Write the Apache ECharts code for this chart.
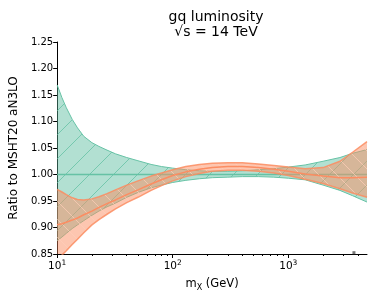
<!DOCTYPE html>
<html><head><meta charset="utf-8">
<script src="https://cdn.jsdelivr.net/npm/echarts@6/dist/echarts.min.js"></script>
<style>html,body{margin:0;padding:0;background:#fff}#c{width:374px;height:297px}</style>
</head><body><div id="c"></div>
<script>
const mass     = [10, 11, 12, 13.5, 15, 17, 20, 23, 27, 32, 40, 50, 65, 80, 100, 130, 170, 220, 300, 400, 550, 750, 1000, 1400, 2000, 2800, 3600, 4800];
const greenHi  = [1.169,1.145,1.126,1.104,1.088,1.072,1.060,1.053,1.046,1.039,1.032,1.026,1.019,1.015,1.012,1.009,1.007,1.006,1.006,1.007,1.009,1.011,1.014,1.018,1.025,1.032,1.040,1.047];
const greenMid = [1,1,1,1,1,1,1,1,1,1,1,1,1,1,1,1,1,1,1,1,1,1,1,1,1,1,1,1];
const greenLo  = [0.875,0.882,0.889,0.898,0.905,0.913,0.923,0.931,0.939,0.946,0.957,0.966,0.975,0.980,0.985,0.989,0.992,0.994,0.995,0.996,0.996,0.995,0.993,0.990,0.980,0.970,0.960,0.948];
const orangeHi = [0.972,0.967,0.962,0.956,0.953,0.952,0.954,0.958,0.964,0.971,0.980,0.988,0.997,1.003,1.009,1.015,1.019,1.021,1.022,1.022,1.020,1.017,1.014,1.011,1.013,1.025,1.042,1.062];
const orangeMid= [0.905,0.907,0.910,0.914,0.918,0.924,0.931,0.938,0.945,0.952,0.962,0.971,0.982,0.990,0.998,1.005,1.010,1.013,1.015,1.015,1.013,1.010,1.006,1.001,0.997,0.994,0.994,0.995];
const orangeLo = [0.840,0.848,0.856,0.868,0.878,0.890,0.905,0.915,0.925,0.935,0.947,0.957,0.970,0.979,0.988,0.996,1.002,1.006,1.008,1.008,1.006,1.003,0.998,0.991,0.983,0.973,0.965,0.957];
const yTicks = [0.85,0.90,0.95,1.00,1.05,1.10,1.15,1.20,1.25];
const xMajor = [10, 100, 1000];
const xMinor = [20,30,40,50,60,70,80,90,200,300,400,500,600,700,800,900,2000,3000,4000];
const marker = [[3700, 0.8525]];

const GREEN = '#66c2a5', ORANGE = '#fc8d62';
const FONT = 'DejaVu Sans';
function hatch(fill, line, dir, s, lw) {
  const c = document.createElement('canvas'); c.width = s; c.height = s;
  const g = c.getContext('2d');
  g.fillStyle = fill; g.fillRect(0, 0, s, s);
  g.strokeStyle = line; g.lineWidth = lw;
  g.beginPath();
  if (dir === '/') {
    g.moveTo(-1, s + 1); g.lineTo(s + 1, -1);
    g.moveTo(-1, 1); g.lineTo(1, -1);
    g.moveTo(s - 1, s + 1); g.lineTo(s + 1, s - 1);
  } else {
    g.moveTo(-1, -1); g.lineTo(s + 1, s + 1);
    g.moveTo(s - 1, -1); g.lineTo(s + 1, 1);
    g.moveTo(-1, s - 1); g.lineTo(1, s + 1);
  }
  g.stroke();
  return { image: c, repeat: 'repeat' };
}
const pair = (arr) => mass.map((m, i) => [m, arr[i]]);

function bandFill(hi, lo, fill, z) {
  return {
    type: 'custom', coordinateSystem: 'cartesian2d', clip: true, silent: true, z: z,
    data: mass.map((m, i) => [m, lo[i], hi[i]]),
    encode: { x: 0, y: [1, 2] },
    renderItem: function (params, api) {
      if (params.dataIndex !== 0) return null;
      const up = mass.map((m, i) => api.coord([m, hi[i]]));
      const dn = mass.map((m, i) => api.coord([m, lo[i]])).reverse();
      return { type: 'polygon', shape: { points: up.concat(dn) }, style: { fill: fill, stroke: null } };
    }
  };
}
function edge(arr, color, w, z) {
  return { type: 'line', data: pair(arr), symbol: 'none', smooth: false, lineStyle: { color: color, width: w }, silent: true, z: z };
}

const chart = echarts.init(document.getElementById('c'), null, { renderer: 'canvas' });
chart.setOption({
  animation: false,
  textStyle: { fontFamily: FONT },
  title: { text: 'gq luminosity\n√s = 14 TeV', left: 211, top: 5, textAlign: 'center',
    textStyle: { fontFamily: FONT, fontSize: 14, fontWeight: 'normal', color: '#000', lineHeight: 15 } },
  grid: { left: 55, right: 7, top: 42, bottom: 42 },
  xAxis: [
    { type: 'log', logBase: 10, min: 10, max: 4800, name: 'm{s|X} (GeV)', nameLocation: 'middle', nameGap: 23,
      nameTextStyle: { fontFamily: FONT, fontSize: 11.5, color: '#000', rich: { s: { fontSize: 8, fontFamily: FONT, color: '#000', verticalAlign: 'bottom', padding: [7, 0, 0, 0] } } },
      axisLine: { show: true, lineStyle: { color: '#000', width: 1 } },
      axisTick: { show: true, length: 4, customValues: xMajor, lineStyle: { color: '#000' } },
      axisLabel: { customValues: xMajor, color: '#000', fontFamily: FONT, fontSize: 10.5, margin: 5,
        formatter: v => '{b|10}{s|' + Math.round(Math.log10(v)) + '}',
        rich: { b: { fontSize: 10.5, fontFamily: FONT, color: '#000' }, s: { fontSize: 7.5, fontFamily: FONT, color: '#000', verticalAlign: 'top', padding: [0, 0, 6, 0] } } },
      splitLine: { show: false } },
    { type: 'log', logBase: 10, min: 10, max: 4800, position: 'bottom', offset: 0,
      axisLine: { show: false }, axisTick: { show: true, length: 2, customValues: xMinor, lineStyle: { color: '#000' } },
      axisLabel: { show: false }, splitLine: { show: false } }
  ],
  yAxis: { type: 'value', min: 0.85, max: 1.25, interval: 0.05, name: 'Ratio to MSHT20 aN3LO', nameLocation: 'middle', nameGap: 36,
    nameTextStyle: { fontFamily: FONT, fontSize: 12, color: '#000' },
    axisLine: { show: true, lineStyle: { color: '#000', width: 1 } },
    axisTick: { show: true, length: 4, lineStyle: { color: '#000' } },
    axisLabel: { color: '#000', fontFamily: FONT, fontSize: 10, margin: 4, formatter: v => v.toFixed(2) },
    splitLine: { show: false } },
  series: [
    bandFill(greenHi, greenLo, hatch('rgba(102,194,165,0.5)', 'rgba(102,194,165,1)', '/', 24, 0.8), 2),
    edge(greenHi, GREEN, 1, 3),
    edge(greenLo, GREEN, 1, 3),
    edge(greenMid, GREEN, 1.5, 4),
    bandFill(orangeHi, orangeLo, hatch('rgba(252,141,98,0.5)', 'rgba(255,205,185,0.9)', '\\', 18, 0.8), 5),
    edge(orangeHi, 'rgba(252,141,98,0.85)', 1.5, 6),
    edge(orangeLo, 'rgba(252,141,98,0.85)', 1.5, 6),
    edge(orangeMid, ORANGE, 1.5, 7),
    { type: 'scatter', data: marker, symbol: 'rect', symbolSize: 3, itemStyle: { color: '#555' }, silent: true, z: 8 }
  ]
});
</script></body></html>
